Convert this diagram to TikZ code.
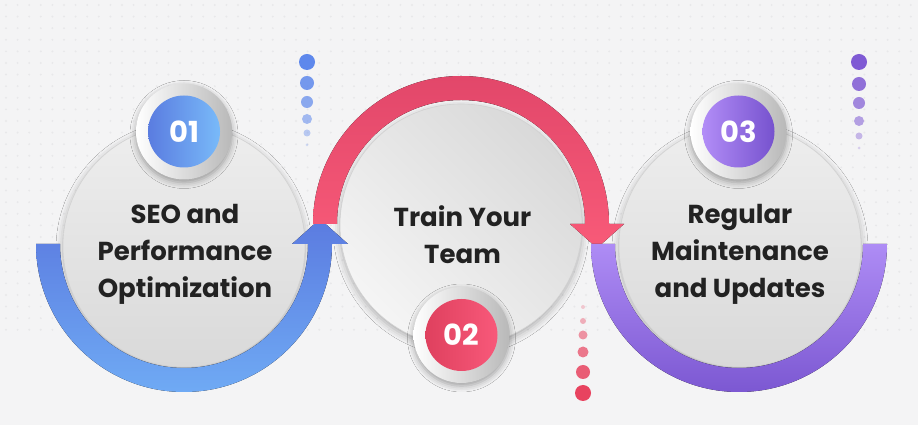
\documentclass[tikz,border=0pt]{standalone}
\usepackage{fontspec}
\setmainfont{Poppins}
\newfontfamily\popsemi{Poppins SemiBold}
\newfontfamily\popbold{Poppins Bold}
\usetikzlibrary{calc,shadows.blur}
\definecolor{bg}{HTML}{F4F4F5}
\definecolor{dotc}{HTML}{E8E8EA}
\definecolor{txt}{HTML}{222222}
\definecolor{bluetop}{HTML}{5B7BE0}
\definecolor{bluebot}{HTML}{6FAAF4}
\definecolor{redtop}{HTML}{E2476A}
\definecolor{redbot}{HTML}{F85A78}
\definecolor{purtop}{HTML}{AE8CF5}
\definecolor{purbot}{HTML}{7C58D2}
\definecolor{b1l}{HTML}{5A7CE0}
\definecolor{b1r}{HTML}{79BAF9}
\definecolor{r2l}{HTML}{DF405E}
\definecolor{r2r}{HTML}{F8597A}
\definecolor{p3l}{HTML}{B28DF7}
\definecolor{p3r}{HTML}{7652CE}
\definecolor{ctop}{HTML}{EEEEEE}
\definecolor{cbot}{HTML}{D9D9D9}
\definecolor{cedge}{HTML}{D2D2D2}
\definecolor{dblue}{HTML}{5E88EC}
\definecolor{dred}{HTML}{E8435F}
\definecolor{dpur}{HTML}{7F5AD4}
\tikzset{
  bigc/.style={circle, minimum size=242pt, inner sep=0pt, draw=cedge, line width=0.6pt,
    blur shadow={shadow xshift=0pt, shadow yshift=-3pt, shadow blur radius=7pt, shadow opacity=30}},
  ringc/.style={circle, minimum size=96pt, inner sep=0pt, left color=white, right color=cbot!85!black,
    blur shadow={shadow xshift=0pt, shadow yshift=-3pt, shadow blur radius=6pt, shadow opacity=35}},
  numc/.style={circle, minimum size=72pt, inner sep=0pt, text=white,
    font=\popbold\fontsize{29}{29}\selectfont},
  lbl/.style={align=center, inner sep=0pt, text=txt, font=\popbold\fontsize{26}{36.7}\selectfont},
}
\begin{document}
\begin{tikzpicture}[x=1pt,y=1pt]
\useasboundingbox (0,0) rectangle (918,425);
\fill[bg] (0,0) rectangle (918,425);
\foreach \i in {0,...,78}{\foreach \j in {0,...,28}{\fill[dotc] (6+11.6*\i,420-11.6*\j) circle (1.1);}}

\coordinate (L) at (184,181);
\coordinate (M) at (461,201);
\coordinate (R) at (739,181);

% big circles
\node[bigc, top color=ctop, bottom color=cbot] (c1) at (184,179) {};
\node[bigc, top color=cbot, bottom color=ctop!60!white, shading angle=-45] (c2) at (461,200) {};
\node[bigc, top color=ctop, bottom color=cbot] (c3) at (740,179) {};

% bands
\fill[top color=bluetop, bottom color=bluebot]
  ($(L)+(-148,0)$) arc[start angle=180, end angle=360, radius=148]
  -- ($(L)+(164,0)$) -- ($(L)+(136,25)$) -- ($(L)+(108,0)$) -- ($(L)+(124,0)$)
  arc[start angle=360, end angle=180, radius=124] -- cycle;
\fill[top color=redtop, bottom color=redbot]
  ($(M)+(-148,0)$) arc[start angle=180, end angle=0, radius=148]
  -- ($(M)+(163,0)$) -- ($(M)+(136,-24)$) -- ($(M)+(109,0)$) -- ($(M)+(124,0)$)
  arc[start angle=0, end angle=180, radius=124] -- cycle;
\fill[top color=purtop, bottom color=purbot]
  ($(R)+(-148,0)$) arc[start angle=180, end angle=360, radius=148]
  -- ($(R)+(124,0)$)
  arc[start angle=360, end angle=180, radius=124] -- cycle;

% labels
\node[lbl] (t1) at (185,170.5) {SEO and\\Performance\\Optimization};
\node[lbl] (t2) at (462.5,190) {Train Your\\Team};
\node[lbl] (t3) at (740,170.5) {Regular\\Maintenance\\and Updates};

% number badges
\node[ringc] (o1) at (184,293.5) {};
\node[numc, left color=b1l, right color=b1r] (n1) at (184,293.5) {01};
\node[ringc] (o2) at (461.5,90) {};
\node[numc, left color=r2l, right color=r2r] (n2) at (461.5,90) {02};
\node[ringc] (o3) at (738.5,293.5) {};
\node[numc, left color=p3l, right color=p3r] (n3) at (738.5,293.5) {03};

% dot columns
\foreach \y/\r/\o in {363/8/1, 342/7/0.85, 323/6/0.7, 306/5/0.55, 292/3.5/0.4, 280/1.5/0.25}
  \fill[dblue, opacity=\o] (307,\y) circle (\r);
\foreach \y/\r/\o in {32/8/1, 53/7/0.85, 73/5.5/0.7, 90/4.5/0.55, 104/3/0.4, 118/2/0.25}
  \fill[dred, opacity=\o] (583,\y) circle (\r);
\foreach \y/\r/\o in {363/8/1, 341/7/0.85, 322/6/0.7, 304/5/0.55, 289/3.5/0.4, 277/1.5/0.25}
  \fill[dpur, opacity=\o] (859,\y) circle (\r);
\end{tikzpicture}
\end{document}
